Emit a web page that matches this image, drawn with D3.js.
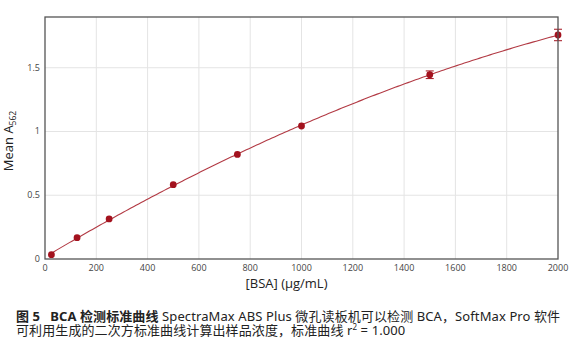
<!DOCTYPE html>
<html>
<head>
<meta charset="utf-8">
<script src="https://cdn.jsdelivr.net/npm/d3@7"></script>
<style>
  body { margin: 0; background: #fff; }
  svg { display: block; }
  .tick-label { font-family: "Open Sans", "Noto Sans", sans-serif; font-size: 9px; fill: #444; }
  .axis-title { font-family: "Open Sans", "Noto Sans", sans-serif; font-size: 13px; fill: #222; }
  .caption { font-family: "Noto Sans", "Noto Sans CJK SC", sans-serif; font-size: 13px; letter-spacing: 0.1px; fill: #222; }
</style>
</head>
<body>
<div id="chart"></div>
<script>
// standard concentrations (ug/mL) and mean absorbance
var conc = [25, 125, 250, 500, 750, 1000, 1500, 2000];
var meanAbs = [0.034, 0.167, 0.314, 0.583, 0.82, 1.043, 1.445, 1.757];
var errAbs = [0.006, 0.006, 0.006, 0.008, 0.008, 0.008, 0.03, 0.045];

var xTicks = [0, 200, 400, 600, 800, 1000, 1200, 1400, 1600, 1800, 2000];
var yTicks = [0, 0.5, 1, 1.5];
var yTickLabels = ["0", "0.5", "1", "1.5"];

var W = 572, H = 352;
var margin = { top: 17, right: 14, bottom: 93, left: 45 };
var width = W - margin.left - margin.right;
var height = H - margin.top - margin.bottom;

var svg = d3.select("#chart").append("svg")
    .attr("width", W)
    .attr("height", H);

var g = svg.append("g")
    .attr("transform", "translate(" + margin.left + "," + margin.top + ")");

var x = d3.scaleLinear().domain([0, 2000]).range([0, width]);
var y = d3.scaleLinear().domain([0, 1.898]).range([height, 0]);

// grid
g.append("g").selectAll("line.vg")
    .data(xTicks.slice(1, -1))
    .enter().append("line")
    .attr("x1", d => x(d)).attr("x2", d => x(d))
    .attr("y1", 0).attr("y2", height)
    .attr("stroke", "#e4e4e4").attr("stroke-width", 1);

g.append("g").selectAll("line.hg")
    .data(yTicks.slice(1))
    .enter().append("line")
    .attr("x1", 0).attr("x2", width)
    .attr("y1", d => y(d)).attr("y2", d => y(d))
    .attr("stroke", "#e4e4e4").attr("stroke-width", 1);

// tick labels
g.append("g").selectAll("text")
    .data(xTicks)
    .enter().append("text")
    .attr("class", "tick-label")
    .attr("x", d => x(d))
    .attr("y", height + 12)
    .attr("text-anchor", "middle")
    .text(d => d);

g.append("g").selectAll("text")
    .data(yTicks)
    .enter().append("text")
    .attr("class", "tick-label")
    .attr("x", -5)
    .attr("y", d => y(d) + 3)
    .attr("text-anchor", "end")
    .text((d, i) => yTickLabels[i]);

// quadratic least-squares fit of the standards
function quadFit(xs, ys) {
    var n = xs.length, s = [0, 0, 0, 0, 0], t = [0, 0, 0];
    for (var i = 0; i < n; i++) {
        var p = 1;
        for (var k = 0; k < 5; k++) { s[k] += p; if (k < 3) t[k] += p * ys[i]; p *= xs[i]; }
    }
    var M = [[s[0], s[1], s[2], t[0]], [s[1], s[2], s[3], t[1]], [s[2], s[3], s[4], t[2]]];
    for (var c = 0; c < 3; c++) {
        for (var r = c + 1; r < 3; r++) {
            var f = M[r][c] / M[c][c];
            for (var j = c; j < 4; j++) M[r][j] -= f * M[c][j];
        }
    }
    var b = [0, 0, 0];
    for (var r2 = 2; r2 >= 0; r2--) {
        var v = M[r2][3];
        for (var j2 = r2 + 1; j2 < 3; j2++) v -= M[r2][j2] * b[j2];
        b[r2] = v / M[r2][r2];
    }
    return b;
}
var coef = quadFit(conc, meanAbs);
var curveX = d3.range(conc[0], 2001, 10);

g.append("path")
    .datum(curveX)
    .attr("fill", "none")
    .attr("stroke", "#b23a44")
    .attr("stroke-width", 1.1)
    .attr("d", d3.line()
        .x(d => x(d))
        .y(d => y(coef[0] + coef[1] * d + coef[2] * d * d)));

// error bars
var pts = conc.map((c, i) => ({ c: c, m: meanAbs[i], e: errAbs[i] }));
var eb = g.append("g").attr("stroke", "#a3121e").attr("stroke-width", 1);
eb.selectAll("line.v").data(pts).enter().append("line")
    .attr("x1", d => x(d.c)).attr("x2", d => x(d.c))
    .attr("y1", d => y(d.m - d.e)).attr("y2", d => y(d.m + d.e));
eb.selectAll("line.t").data(pts.filter(d => d.e > 0.02)).enter().append("line")
    .attr("x1", d => x(d.c) - 4).attr("x2", d => x(d.c) + 4)
    .attr("y1", d => y(d.m + d.e)).attr("y2", d => y(d.m + d.e));
eb.selectAll("line.b").data(pts.filter(d => d.e > 0.02)).enter().append("line")
    .attr("x1", d => x(d.c) - 4).attr("x2", d => x(d.c) + 4)
    .attr("y1", d => y(d.m - d.e)).attr("y2", d => y(d.m - d.e));

g.append("g").selectAll("circle")
    .data(pts)
    .enter().append("circle")
    .attr("cx", d => x(d.c))
    .attr("cy", d => y(d.m))
    .attr("r", 3.4)
    .attr("fill", "#a3121e");

// frame
g.append("rect")
    .attr("x", 0).attr("y", 0)
    .attr("width", width).attr("height", height)
    .attr("fill", "none")
    .attr("stroke", "#555").attr("stroke-width", 1.3);

// axis titles
svg.append("text")
    .attr("class", "axis-title")
    .attr("x", margin.left + width / 2 - 15)
    .attr("y", 288)
    .attr("text-anchor", "middle")
    .text("[BSA] (µg/mL)");

var yt = svg.append("text")
    .attr("class", "axis-title")
    .attr("transform", "translate(13," + (margin.top + height / 2 + 3) + ") rotate(-90)")
    .attr("text-anchor", "middle");
yt.append("tspan").text("Mean A");
yt.append("tspan").attr("font-size", "8.5px").attr("dy", 3).text("562");

// caption
var cap1 = svg.append("text").attr("class", "caption").attr("x", 16).attr("y", 321);
cap1.append("tspan").attr("font-weight", "bold").text("图 5\u2002 BCA 检测标准曲线");
cap1.append("tspan").text(" SpectraMax ABS Plus 微孔读板机可以检测 BCA，SoftMax Pro 软件");

var cap2 = svg.append("text").attr("class", "caption").attr("x", 16).attr("y", 335);
cap2.append("tspan").text("可利用生成的二次方标准曲线计算出样品浓度，标准曲线 r");
cap2.append("tspan").attr("font-size", "8px").attr("dy", -5).text("2");
cap2.append("tspan").attr("dy", 5).text(" = 1.000");
</script>
</body>
</html>
